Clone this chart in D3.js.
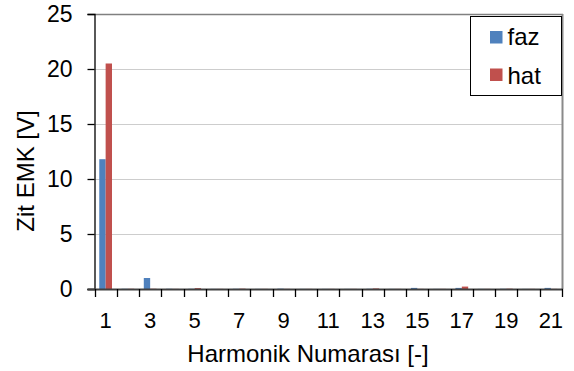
<!DOCTYPE html>
<html><head><meta charset="utf-8">
<script src="https://cdn.jsdelivr.net/npm/d3@7"></script>
<style>body{margin:0;background:#fff}svg{display:block;font-family:"Liberation Sans",Arial,sans-serif}</style>
</head><body><svg id="c" width="574" height="371"></svg>
<script>
const categories = [1,2,3,4,5,6,7,8,9,10,11,12,13,14,15,16,17,18,19,20,21];
const fazValues = [11.8,0.02,1.0,0.02,0.02,0.01,0.02,0.01,0.03,0.01,0.01,0.01,0.02,0.01,0.1,0.01,0.1,0.01,0.02,0.01,0.1];
const hatValues = [20.5,0.02,0.02,0.01,0.08,0.01,0.03,0.01,0.01,0.01,0.01,0.01,0.05,0.01,0.01,0.01,0.22,0.01,0.03,0.01,0.01];
const seriesNames = ["faz","hat"];
const seriesColors = ["#4F81BD","#C0504D"];
const yTicks = [0,5,10,15,20,25];
const xTickLabels = ["1","3","5","7","9","11","13","15","17","19","21"];
const xTitle = "Harmonik Numarası [-]";
const yTitle = "Zit EMK [V]";

const svg = d3.select("#c");
const L=94.5, R=562, T=14, B=289;
const x = d3.scaleBand().domain(categories).range([L,R]).padding(0);
const bw = x.bandwidth();
const barW = bw/3.5;
const xs = d3.scaleBand().domain(seriesNames).range([bw/2-barW, bw/2+barW]);
const y = d3.scaleLinear().domain([0,25]).range([B,T]);

// gridlines
svg.append("g").selectAll("line").data(yTicks.filter(v=>v>0&&v<25)).join("line")
  .attr("x1",L).attr("x2",R).attr("y1",d=>Math.round(y(d))+0.5).attr("y2",d=>Math.round(y(d))+0.5)
  .attr("stroke","#9a9a9a").attr("stroke-width",1).attr("stroke-dasharray","1,1");
// frame top/right
svg.append("line").attr("x1",L).attr("x2",R+1).attr("y1",T+0.5).attr("y2",T+0.5).attr("stroke","#808080").attr("stroke-width",1.5);
svg.append("line").attr("x1",R+0.5).attr("x2",R+0.5).attr("y1",T).attr("y2",B).attr("stroke","#8a8a8a").attr("stroke-width",2);

// bars
const data = categories.map((c,i)=>({c, vals:[fazValues[i],hatValues[i]]}));
const g = svg.append("g");
seriesNames.forEach((s,si)=>{
  g.selectAll("rect.s"+si).data(data).join("rect").attr("class","s"+si)
    .attr("x",d=>x(d.c)+xs(s)).attr("width",xs.bandwidth())
    .attr("y",d=>y(d.vals[si])).attr("height",d=>B-y(d.vals[si]))
    .attr("fill",seriesColors[si]);
});

// y axis
const yAxis = d3.axisLeft(y).tickValues(yTicks).tickSize(7).tickPadding(15).tickFormat(d3.format("d"));
const ya = svg.append("g").attr("transform",`translate(${L},0)`).call(yAxis);
ya.select(".domain").attr("stroke","#000").attr("stroke-width",1.3);
ya.selectAll(".tick line").attr("stroke","#000").attr("stroke-width",1.3);
ya.selectAll("text").attr("font-size",23).attr("fill","#000").attr("font-family","Liberation Sans, Arial, sans-serif");

// x axis baseline
svg.append("line").attr("x1",L-7).attr("x2",R+1).attr("y1",B+0.5).attr("y2",B+0.5).attr("stroke","#404040").attr("stroke-width",2);
// x ticks at boundaries
const bounds = categories.map(c=>x(c)).concat([R]);
svg.append("g").selectAll("line").data(bounds).join("line")
  .attr("x1",d=>Math.round(d)+0.5).attr("x2",d=>Math.round(d)+0.5).attr("y1",B).attr("y2",B+8)
  .attr("stroke","#000").attr("stroke-width",1.3);
// x labels
svg.append("g").selectAll("text").data(xTickLabels).join("text")
  .attr("x",d=>x(+d)+bw/2).attr("y",328).attr("text-anchor","middle")
  .attr("font-size",22).attr("fill","#000").text(d=>d);

// titles
svg.append("text").attr("x",308).attr("y",362).attr("text-anchor","middle").attr("font-size",24).text(xTitle);
svg.append("text").attr("transform","translate(34,171) rotate(-90)").attr("text-anchor","middle").attr("font-size",24).text(yTitle);

// legend
const lg = svg.append("g");
lg.append("rect").attr("x",470.5).attr("y",16.5).attr("width",91).attr("height",79).attr("fill","#fff").attr("stroke","#000").attr("stroke-width",1);
seriesNames.forEach((s,i)=>{
  const yy = [31,68.5][i];
  lg.append("rect").attr("x",490).attr("y",yy).attr("width",12.5).attr("height",12.5).attr("fill",seriesColors[i]);
  lg.append("text").attr("x",507.5).attr("y",[45,83.5][i]).attr("font-size",24).attr("fill","#000").text(s);
});
</script></body></html>
